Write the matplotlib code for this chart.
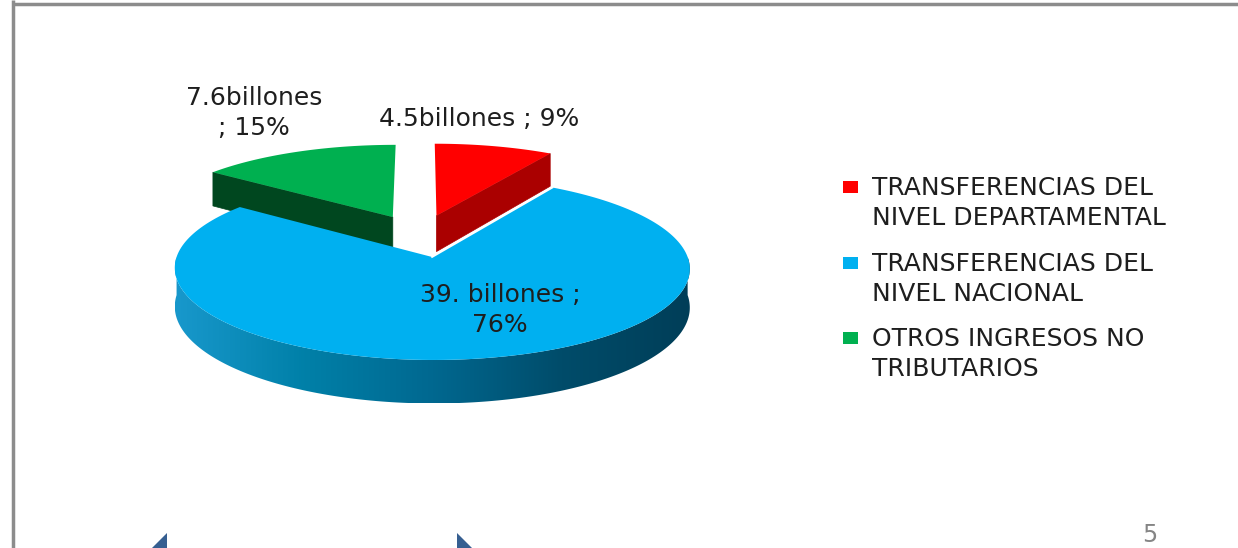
import numpy as np
import matplotlib.pyplot as plt
from matplotlib.patches import Polygon, Rectangle
from matplotlib.colors import LinearSegmentedColormap

# data
categories = ["TRANSFERENCIAS DEL\nNIVEL DEPARTAMENTAL",
              "TRANSFERENCIAS DEL\nNIVEL NACIONAL",
              "OTROS INGRESOS NO\nTRIBUTARIOS"]
values = [4.5, 39.0, 7.6]          # billones
slice_labels = ["4.5billones ; 9%", "39. billones ;\n76%", "7.6billones\n; 15%"]

top_colors = ["#FF0000", "#00B0F0", "#00B050"]
side_colors = ["#AA0000", None, "#00471F"]
blue_side = LinearSegmentedColormap.from_list(
    "side", ["#1898CC", "#0080A8", "#006890", "#004C6A", "#003E58"])

W, H = 1238, 548
fig = plt.figure(figsize=(W / 100, H / 100), dpi=100)
ax = fig.add_axes([0, 0, 1, 1])
ax.set_xlim(0, W)
ax.set_ylim(H, 0)
ax.axis("off")

# 3d pie projection settings (pixels)
CX, CY = 420, 235.5
SX, SY, DEPTH, PERSP, EXPLODE = 248, 85, 37, 0.12, 0.25


def project(theta, r, off, bottom=0):
    t = np.radians(theta)
    u = r * np.sin(t) + off[0]
    v = r * np.cos(t) + off[1]
    w = 1 + PERSP * v
    return np.column_stack([CX + SX * u / w, CY - SY * v / w + DEPTH * bottom / w])


def radial_face(a, off):
    pts = [project(a, 0, off)[0], project(a, 1, off)[0],
           project(a, 1, off, 1)[0], project(a, 0, off, 1)[0]]
    return np.array(pts)


total = sum(values)
edges = np.concatenate([[0], np.cumsum(values) / total * 360])
slices = []
for i in range(len(values)):
    a0, a1 = edges[i], edges[i + 1]
    mid = np.radians((a0 + a1) / 2)
    off = (EXPLODE * np.sin(mid), EXPLODE * np.cos(mid))
    slices.append((i, a0, a1, off))

# draw back slices first
for i, a0, a1, off in sorted(slices, key=lambda s: -s[3][1]):
    # visible radial walls
    if np.sin(np.radians(a1)) > 1e-6:
        ax.add_patch(Polygon(radial_face(a1, off), closed=True,
                             fc=side_colors[i], ec=side_colors[i], lw=0.5))
    if np.sin(np.radians(a0)) < -1e-6:
        ax.add_patch(Polygon(radial_face(a0, off), closed=True,
                             fc=side_colors[i], ec=side_colors[i], lw=0.5))
    # front outer wall with a horizontal shading
    s0, s1 = max(a0, 90), min(a1, 270)
    if s1 > s0:
        th = np.linspace(s0, s1, 300)
        wall = np.vstack([project(th, 1, off), project(th[::-1], 1, off, 1)])
        clip = Polygon(wall, closed=True, fc="none", ec="none")
        ax.add_patch(clip)
        x0, x1 = wall[:, 0].min(), wall[:, 0].max()
        y0, y1 = wall[:, 1].min(), wall[:, 1].max()
        grad = np.linspace(0, 1, 256)[None, :]
        im = ax.imshow(grad, cmap=blue_side, extent=(x0, x1, y1, y0),
                       aspect="auto", interpolation="bilinear", zorder=1)
        im.set_clip_path(clip)
    # top face
    th = np.linspace(a0, a1, 200)
    pts = np.vstack([project(0, 0, off), project(th, 1, off)])
    ax.add_patch(Polygon(pts, closed=True, fc=top_colors[i], ec="none", zorder=2))
    if i == 1:
        edge = np.vstack([project(a0, 0, off), project(a0, 1, off)])
        ax.plot(edge[:, 0], edge[:, 1], color="white", lw=1.3, zorder=3)

ax.set_xlim(0, W)
ax.set_ylim(H, 0)

# slice labels
font = "DejaVu Sans"
tc = "#1E1E1E"
fs = 18
ls = 1.33
ax.text(479, 119, slice_labels[0], ha="center", va="center", fontsize=fs,
        family=font, color=tc, zorder=5)
ax.text(500, 310, slice_labels[1], ha="center", va="center", fontsize=fs,
        family=font, color=tc, linespacing=ls, zorder=5)
ax.text(254, 113, slice_labels[2], ha="center", va="center", fontsize=fs,
        family=font, color=tc, linespacing=ls, zorder=5)

# legend
leg_y = [203, 279, 354]
for i, name in enumerate(categories):
    ax.add_patch(Rectangle((843, leg_y[i] - 22), 15, 12, fc=top_colors[i], ec="none"))
    ax.text(872, leg_y[i], name, ha="left", va="center", fontsize=fs,
            family=font, color=tc, linespacing=ls)

# slide frame, page number and nav arrows
ax.plot([13, 13], [0, H], color="#8C8C8C", lw=2.5, solid_capstyle="butt")
ax.plot([13, W], [4, 4], color="#8C8C8C", lw=2.5, solid_capstyle="butt")
ax.text(1150, 542, "5", ha="center", va="baseline", fontsize=17, color="#858585",
        family=font)
ax.add_patch(Polygon([[167, 533], [167, 560], [140, 560]], closed=True, fc="#365F91", ec="none"))
ax.add_patch(Polygon([[457, 533], [457, 560], [484, 560]], closed=True, fc="#365F91", ec="none"))

fig.savefig("out.png", dpi=100)
